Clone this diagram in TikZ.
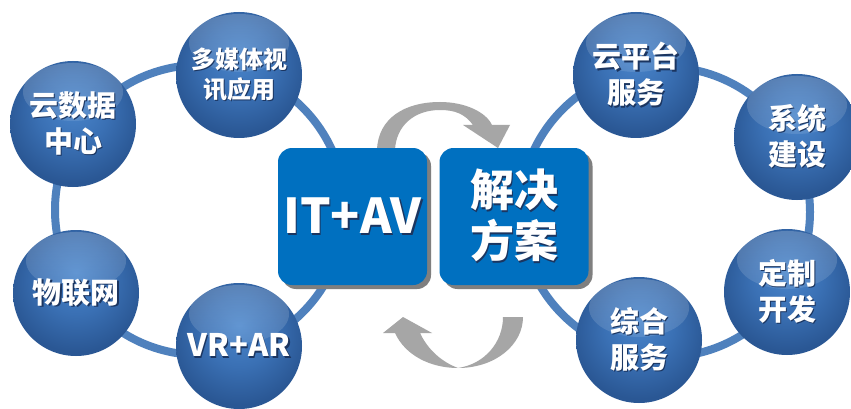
\documentclass[tikz,border=0pt]{standalone}
\usepackage{fontspec}
\setmainfont{Noto Sans CJK SC}
\usetikzlibrary{shadows,fadings,calc}
\definecolor{ringc}{HTML}{4F81BD}
\definecolor{boxc}{HTML}{0070C0}
\definecolor{arrc}{HTML}{A6A6A6}
\definecolor{sphtop}{HTML}{4A86CC}
\definecolor{sphmid}{HTML}{3A70B4}
\definecolor{sphedge}{HTML}{2A5794}
\definecolor{shdc}{HTML}{1B3560}
\definecolor{boxshd}{HTML}{7F7F7F}
\pgfdeclareradialshading{bluesphere}{\pgfpoint{0bp}{8bp}}{color(0bp)=(sphtop); color(14bp)=(sphmid); color(27bp)=(sphedge); color(50bp)=(sphedge)}
\newcommand\txsh[1]{\leavevmode\rlap{\kern1.5pt\raisebox{-1.5pt}{\color{shdc}#1}}#1}
\tikzset{
  ball/.style={circle, minimum size=126pt, inner sep=0pt, shading=bluesphere,
    text=white, align=center, font=\bfseries\fontsize{29}{36}\selectfont,
    path picture={\fill[white, path fading=south, fill opacity=0.2]
      ($(path picture bounding box.center)+(0,-32)$) ellipse [x radius=50pt, y radius=29pt];}},
  bx/.style={rounded corners=14pt, fill=boxc, text=white, align=center,
    minimum width=149pt, minimum height=137pt, inner sep=0pt,
    drop shadow={shadow xshift=4pt, shadow yshift=-4pt, fill=boxshd, opacity=1}},
  ringline/.style={draw=ringc, line width=8pt},
  garrow/.style={fill=arrc}
}
\begin{document}
\begin{tikzpicture}[x=1pt,y=-1pt]
\useasboundingbox (0,0) rectangle (851,409);
\fill[white] (0,0) rectangle (851,409);
% rings
\coordinate (lc) at (200,210);
\coordinate (rc) at (665,212);
\draw[ringline] (lc) circle [radius=145pt];
\draw[ringline] (rc) circle [radius=145pt];
% top arrow
\fill[garrow] (377,160) -- (377,150) .. controls (378,118) and (405,102) .. (440,102)
  .. controls (465,102) and (486,112) .. (492,125) -- (510,125) -- (498,148) -- (463,125) -- (473,125)
  .. controls (465,114) and (455,110) .. (440,110)
  .. controls (414,110) and (396,126) .. (395,150) -- (395,160) -- cycle;
% bottom arrow
\fill[garrow] (503,317) -- (523,317) .. controls (523,345) and (495,368) .. (458,368)
  .. controls (430,368) and (405,355) .. (395,333) -- (383,333) -- (403,317) -- (432,333) -- (420,333)
  .. controls (428,350) and (442,362) .. (458,368)
  .. controls (485,364) and (503,342) .. (503,317) -- cycle;
% boxes
\node[bx, font=\bfseries\fontsize{48}{52}\selectfont] (itav) at (352.5,216.5) {\txsh{IT+AV}};
\node[bx, font=\bfseries\fontsize{44}{51}\selectfont] (jjfa) at (514,216.5) {\txsh{解决}\\\txsh{方案}};
% left circles
\node[ball, font=\bfseries\fontsize{24}{30}\selectfont] (dmt) at (239,75) {\txsh{多媒体视}\\\txsh{讯应用}};
\node[ball] (ysj) at (73,124) {\txsh{云数据}\\\txsh{中心}};
\node[ball] (wlw) at (76,293) {\txsh{物联网}};
\node[ball, font=\bfseries\fontsize{31}{36}\selectfont] (vrar) at (239,346) {\txsh{VR+AR}};
% right circles
\node[ball] (ypt) at (636,75) {\txsh{云平台}\\\txsh{服务}};
\node[ball] (xtjs) at (797,137) {\txsh{系统}\\\txsh{建设}};
\node[ball] (dzkf) at (787,292) {\txsh{定制}\\\txsh{开发}};
\node[ball] (zhfw) at (639,340) {\txsh{综合}\\\txsh{服务}};
\end{tikzpicture}
\end{document}
